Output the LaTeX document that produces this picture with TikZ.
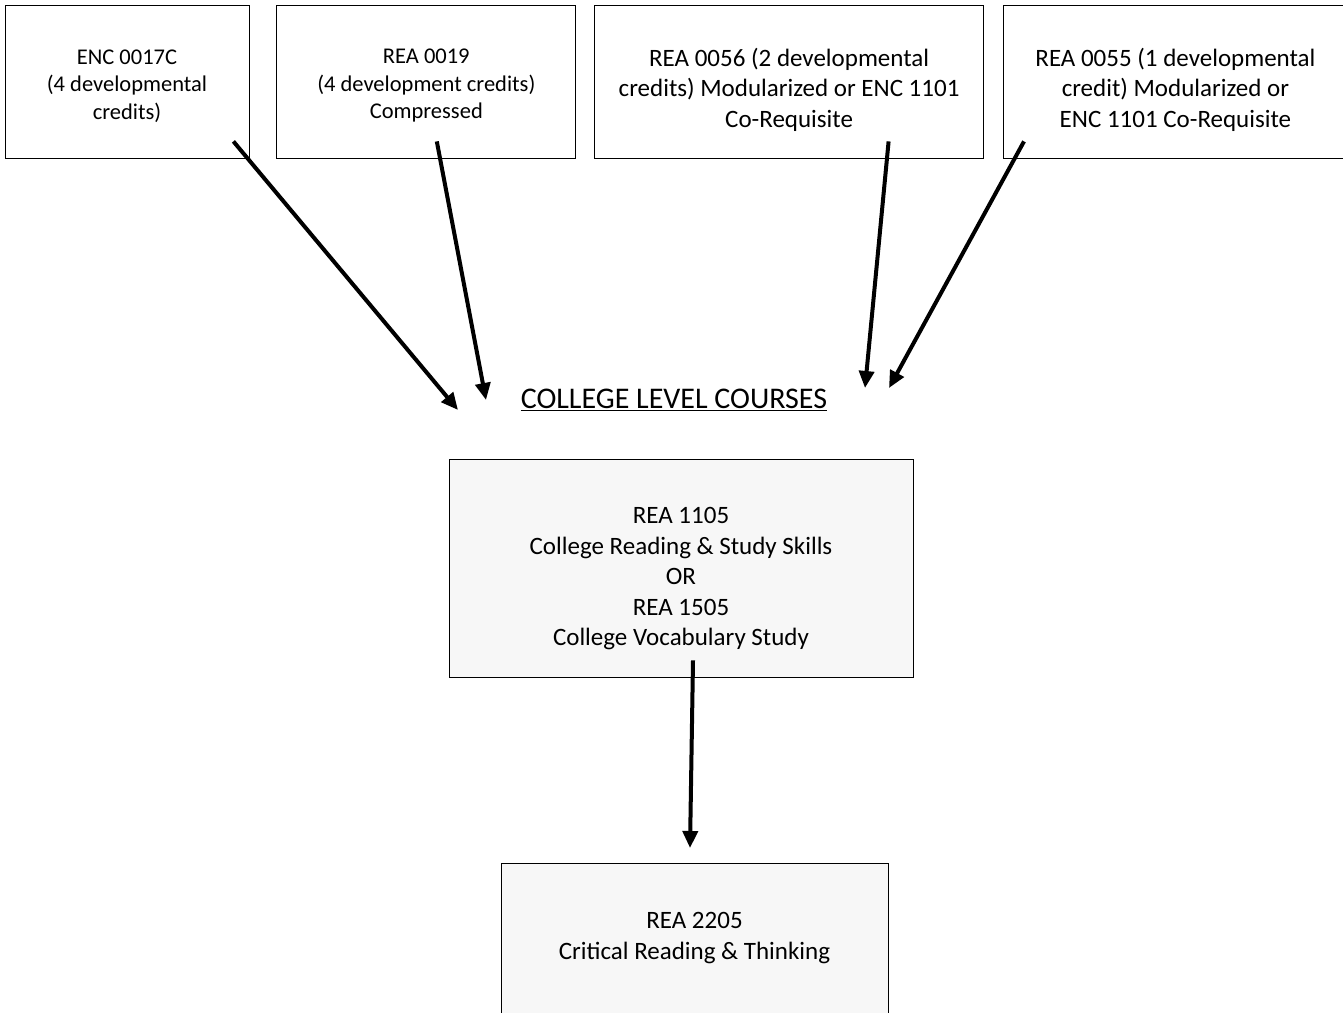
\documentclass[tikz,border=0pt]{standalone}
\usepackage{fontspec}
\setmainfont{Carlito}
\usepackage{tikz}
\usetikzlibrary{arrows.meta,positioning,calc}

\begin{document}
\begin{tikzpicture}[
  x=1pt, y=-1pt,
  box/.style={draw, line width=0.8pt, minimum height=153pt, align=center, inner sep=0pt},
  small/.style={box, font=\fontsize{22.5}{27.5}\selectfont},
  big/.style={box, font=\fontsize{25}{30.5}\selectfont},
  lower/.style={big, fill=black!3},
  arr/.style={-{Triangle[length=17pt,width=15pt]}, line width=4pt}]
\useasboundingbox (0,0) rectangle (1343,1012);
\node[small, minimum width=244pt] (enc) at (127,81.5) {\rule{0pt}{23.5pt}ENC 0017C\\(4 developmental\\credits)};
\node[small, minimum width=299pt, right=27pt of enc] (rea19) {\rule{0pt}{23.5pt}REA 0019\\(4 development credits)\\Compressed};
\node[big, minimum width=389pt, right=18pt of rea19] (rea56) {\rule{0pt}{35pt}REA 0056 (2 developmental\\credits) Modularized or ENC 1101\\Co-Requisite};
\node[big, minimum width=344pt, right=19pt of rea56] (rea55) {\rule{0pt}{35pt}REA 0055 (1 developmental\\credit) Modularized or\\ENC 1101 Co-Requisite};
\node[font=\fontsize{30}{34}\selectfont] (title) at (674,400) {\underline{COLLEGE LEVEL COURSES}};
\node[lower, minimum width=464pt, minimum height=218pt] (mid) at (681,568) {\rule{0pt}{38pt}REA 1105\\College Reading \& Study Skills\\OR\\REA 1505\\College Vocabulary Study};
\node[lower, minimum width=387pt, minimum height=150pt] (crit) at (694.5,938) {REA 2205\\Critical Reading \& Thinking};
% arrow ends
\coordinate (s1) at ([shift={(-16,-17)}]enc.south east);
\coordinate (s2) at ([shift={(10.5,-17)}]rea19.south);
\coordinate (s3) at ([shift={(99.5,-17)}]rea56.south);
\coordinate (s4) at ([shift={(21,-17)}]rea55.south west);
\coordinate (s5) at ([shift={(12,-17)}]mid.south);
\coordinate (e1) at (458,410);
\coordinate (e2) at (486,400);
\coordinate (e3) at (865,388);
\coordinate (e4) at (889,388);
\coordinate (e5) at (690,848);
\foreach \x/\y in {s1/e1,s2/e2,s3/e3,s4/e4,s5/e5} \draw[arr] (\x) -- (\y);
\end{tikzpicture}
\end{document}
